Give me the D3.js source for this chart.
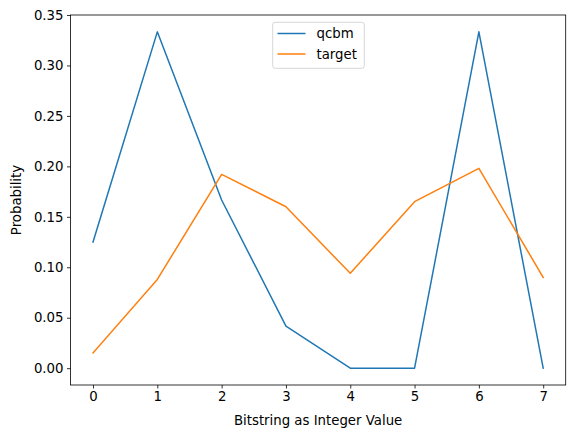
<!DOCTYPE html>
<html><head><meta charset="utf-8">
<script src="https://cdn.jsdelivr.net/npm/d3@7"></script>
<style>body{margin:0;background:#fff}svg{display:block;font-family:"DejaVu Sans",sans-serif}</style>
</head><body><svg id="c" width="576" height="438"></svg>
<script>
const xValues = [0, 1, 2, 3, 4, 5, 6, 7];
const qcbm = [0.125, 0.3333, 0.1667, 0.0417, 0.0, 0.0, 0.3333, 0.0];
const target = [0.015, 0.088, 0.192, 0.160, 0.094, 0.165, 0.198, 0.090];
const seriesNames = ["qcbm", "target"];
const colors = ["#1f77b4", "#ff7f0e"];
const yTicks = [0, 0.05, 0.10, 0.15, 0.20, 0.25, 0.30, 0.35];

const svg = d3.select("#c");
const L = 70.5, R = 565.7, T = 15, B = 385;
const x = d3.scaleLinear().domain([-0.35, 7.35]).range([L, R]);
const y = d3.scaleLinear().domain([-0.016667, 0.35]).range([B, T]);

const xa = svg.append("g").attr("transform", `translate(0,${B})`)
  .call(d3.axisBottom(x).tickValues(xValues).tickFormat(d3.format("d")).tickSize(3.5).tickPadding(3.5));
const ya = svg.append("g").attr("transform", `translate(${L},0)`)
  .call(d3.axisLeft(y).tickValues(yTicks).tickFormat(d3.format(".2f")).tickSize(3.5).tickPadding(3.5));
[xa, ya].forEach(a => {
  a.select(".domain").remove();
  a.selectAll("text").attr("font-size", "13.3px").attr("fill", "#000").attr("font-family", "DejaVu Sans");
  a.selectAll("line").attr("stroke", "#000").attr("stroke-width", 0.8);
});

const line = d3.line().x((d, i) => x(xValues[i])).y(d => y(d));
[qcbm, target].forEach((s, k) => {
  svg.append("path").attr("d", line(s)).attr("fill", "none")
    .attr("stroke", colors[k]).attr("stroke-width", 1.5).attr("stroke-linejoin", "round").attr("stroke-linecap", "square");
});

svg.append("rect").attr("x", L).attr("y", T).attr("width", R - L).attr("height", B - T)
  .attr("fill", "none").attr("stroke", "#000").attr("stroke-width", 0.8);

svg.append("text").attr("x", (L + R) / 2).attr("y", 425).attr("text-anchor", "middle")
  .attr("font-size", "13.3px").text("Bitstring as Integer Value");
svg.append("text").attr("transform", `translate(21,${(T + B) / 2}) rotate(-90)`).attr("text-anchor", "middle")
  .attr("font-size", "13.3px").text("Probability");

// legend
const lg = svg.append("g");
lg.append("rect").attr("x", 272.7).attr("y", 22.3).attr("width", 91.6).attr("height", 46)
  .attr("rx", 2.5).attr("fill", "#fff").attr("fill-opacity", 0.8).attr("stroke", "#ccc").attr("stroke-width", 0.8);
seriesNames.forEach((n, k) => {
  const yy = 33.5 + k * 20.5;
  lg.append("line").attr("x1", 277.5).attr("x2", 305.5).attr("y1", yy).attr("y2", yy)
    .attr("stroke", colors[k]).attr("stroke-width", 1.5);
  lg.append("text").attr("x", 316.5).attr("y", yy + 4.8).attr("font-size", "13.3px").text(n);
});
</script></body></html>
